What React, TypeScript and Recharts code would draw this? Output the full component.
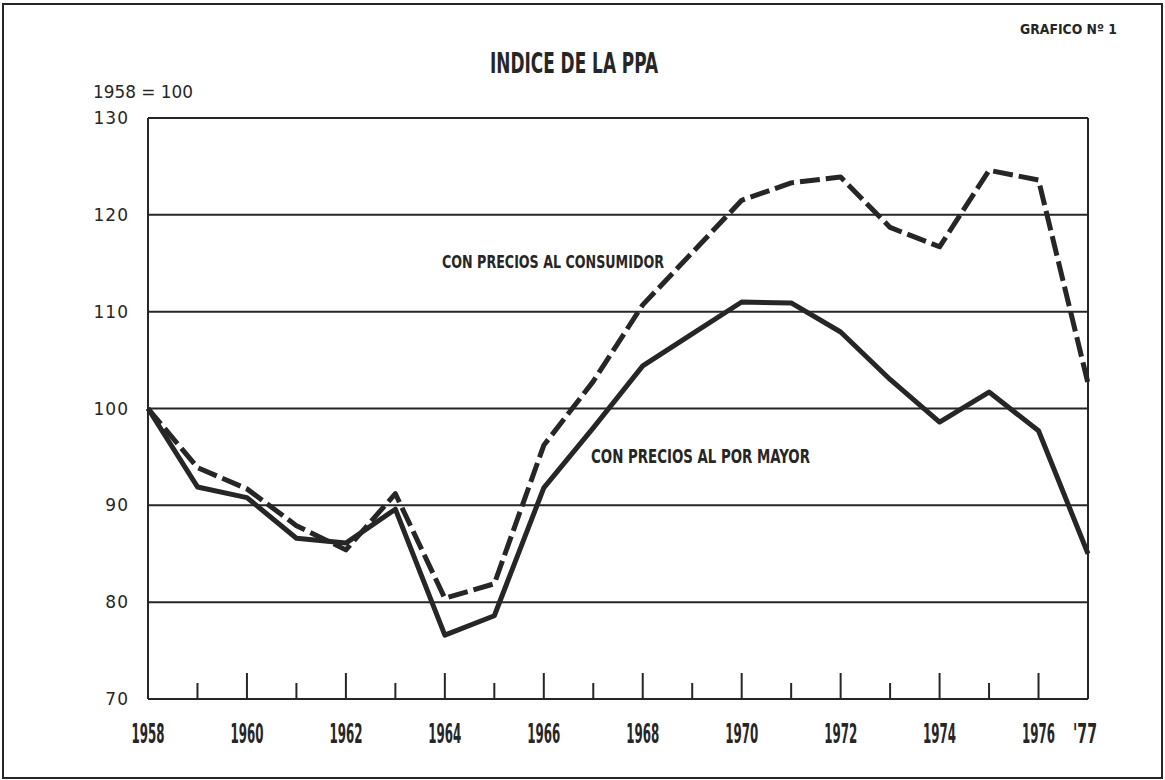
import React from "react";
import { LineChart, Line, XAxis, YAxis, CartesianGrid, ReferenceLine } from "recharts";

const years = [1958, 1959, 1960, 1961, 1962, 1963, 1964, 1965, 1966, 1967, 1968, 1969, 1970, 1971, 1972, 1973, 1974, 1975, 1976, 1977];
const consumerValues = [100, 93.9, 91.7, 87.9, 85.4, 91.2, 80.4, 81.9, 96.2, 102.8, 110.7, 116.1, 121.5, 123.3, 123.9, 118.7, 116.7, 124.6, 123.6, 102.6];
const wholesaleValues = [100, 91.9, 90.8, 86.6, 86.1, 89.6, 76.6, 78.6, 91.8, 98.0, 104.4, 107.7, 111.0, 110.9, 107.9, 103.0, 98.6, 101.7, 97.7, 85.0];
const yTicks = [70, 80, 90, 100, 110, 120, 130];
const xTickLabels: Record<number, string> = {
  1958: "1958", 1960: "1960", 1962: "1962", 1964: "1964", 1966: "1966",
  1968: "1968", 1970: "1970", 1972: "1972", 1974: "1974", 1976: "1976", 1977: "'77",
};

const data = years.map((y, i) => ({ year: y, consumer: consumerValues[i], wholesale: wholesaleValues[i] }));

const INK = "#262626";
const NARROW = "'Liberation Sans Narrow', 'DejaVu Sans Condensed', 'Liberation Sans', sans-serif";

const XTick = (props: any) => {
  const { x, y, payload } = props;
  const yr = payload.value as number;
  const isLast = yr === years[years.length - 1];
  const major = yr % 2 === 0;
  const label = xTickLabels[yr];
  return (
    <g>
      {!isLast && (
        <line x1={x} x2={x} y1={y} y2={y - (major ? 26 : 16)} stroke={INK} strokeWidth={2} />
      )}
      {label && (
        <text
          x={isLast ? x - 3 : x}
          y={y + 44}
          textAnchor="middle"
          fontFamily={NARROW}
          fontWeight={700}
          fontSize={26}
          fill={INK}
          textLength={isLast ? 24 : 33}
          lengthAdjust="spacingAndGlyphs"
        >
          {label}
        </text>
      )}
    </g>
  );
};

const YTick = (props: any) => {
  const { x, y, payload } = props;
  return (
    <text
      x={x - 19}
      y={y + 6}
      textAnchor="end"
      fontFamily="'DejaVu Sans', sans-serif"
      fontSize={17}
      fill={INK}
      letterSpacing={1}
    >
      {payload.value}
    </text>
  );
};

export default function App() {
  return (
    <div style={{ position: "absolute", left: 0, top: 0, width: 1165, height: 780, background: "#fff" }}>
      <div
        style={{
          position: "absolute",
          left: 2,
          top: 3,
          width: 1161,
          height: 776,
          border: `2px solid ${INK}`,
          boxSizing: "border-box",
        }}
      />
      <div style={{ position: "absolute", left: 0, top: 0 }}>
        <LineChart width={1165} height={780} data={data} margin={{ top: 118, left: 88, right: 77, bottom: 31 }}>
          <CartesianGrid horizontal vertical={false} stroke={INK} strokeWidth={2} />
          <XAxis
            dataKey="year"
            type="number"
            domain={[1958, 1977]}
            ticks={years}
            interval={0}
            height={50}
            tickLine={false}
            tickSize={0}
            tickMargin={0}
            axisLine={{ stroke: INK, strokeWidth: 2 }}
            tick={<XTick />}
          />
          <YAxis
            type="number"
            domain={[70, 130]}
            ticks={yTicks}
            interval={0}
            width={60}
            tickLine={false}
            tickSize={0}
            tickMargin={0}
            axisLine={{ stroke: INK, strokeWidth: 2 }}
            tick={<YTick />}
          />
          <ReferenceLine x={1977} stroke={INK} strokeWidth={2} />
          <Line
            type="linear"
            dataKey="consumer"
            stroke={INK}
            strokeWidth={5}
            strokeDasharray="20 6"
            dot={false}
            isAnimationActive={false}
            strokeLinejoin="round"
          />
          <Line
            type="linear"
            dataKey="wholesale"
            stroke={INK}
            strokeWidth={5}
            dot={false}
            isAnimationActive={false}
            strokeLinejoin="round"
          />
        </LineChart>
      </div>
      <svg width={1165} height={780} style={{ position: "absolute", left: 0, top: 0, pointerEvents: "none" }}>
        <text x={574} y={73} textAnchor="middle" fontFamily={NARROW} fontWeight={700} fontSize={29} fill={INK}
          textLength={168} lengthAdjust="spacingAndGlyphs">INDICE DE LA PPA</text>
        <text x={1020} y={34} fontFamily={NARROW} fontWeight={700} fontSize={14} fill={INK}
          textLength={97} lengthAdjust="spacingAndGlyphs">GRAFICO Nº 1</text>
        <text x={93} y={98} fontFamily="'DejaVu Sans', sans-serif" fontSize={17} fill={INK}
          textLength={100} lengthAdjust="spacingAndGlyphs">1958 = 100</text>
        <text x={442} y={268} fontFamily={NARROW} fontWeight={700} fontSize={18} fill={INK}
          textLength={222} lengthAdjust="spacingAndGlyphs">CON PRECIOS AL CONSUMIDOR</text>
        <text x={591} y={463} fontFamily={NARROW} fontWeight={700} fontSize={19} fill={INK}
          textLength={219} lengthAdjust="spacingAndGlyphs">CON PRECIOS AL POR MAYOR</text>
      </svg>
    </div>
  );
}
